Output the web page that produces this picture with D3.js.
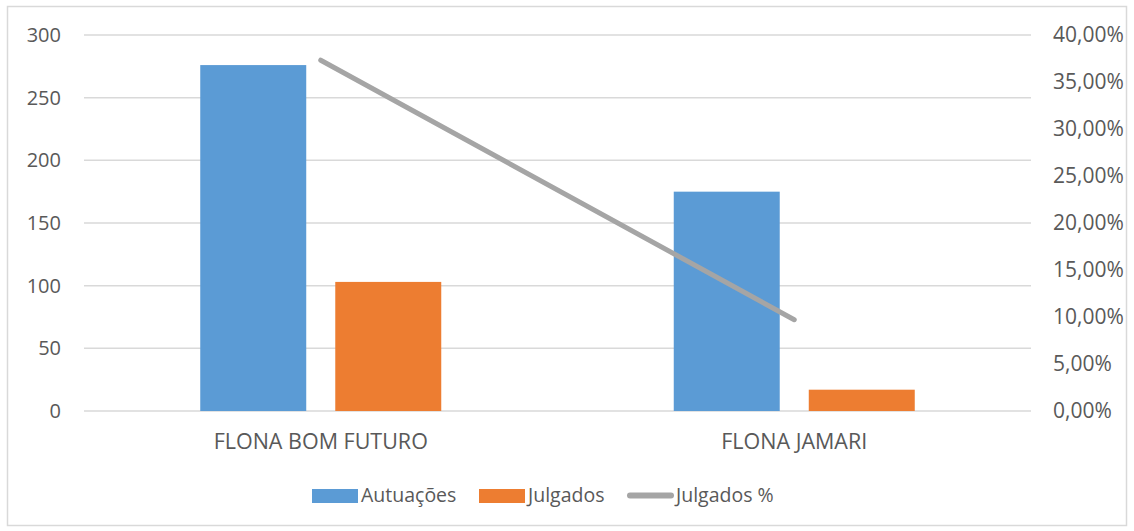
<!DOCTYPE html>
<html><head><meta charset="utf-8">
<script src="https://cdn.jsdelivr.net/npm/d3@7"></script>
<style>body{margin:0;background:#fff}svg{display:block}text{font-family:"Open Sans",sans-serif;fill:#595959}</style>
</head><body><svg id="c" width="1134" height="531"></svg>
<script>
const categories = ["FLONA BOM FUTURO", "FLONA JAMARI"];
const seriesNames = ["Autuações", "Julgados"];
const autuacoes = [276, 175];
const julgados = [103, 17];
const julgadosPct = [0.3732, 0.0971];
const leftTicks = [0, 50, 100, 150, 200, 250, 300];
const rightTicks = [0, 0.05, 0.10, 0.15, 0.20, 0.25, 0.30, 0.35, 0.40];
const colors = {"Autuações": "#5b9bd5", "Julgados": "#ed7d31", "Julgados %": "#a5a5a5"};

const svg = d3.select("#c");
const L = 84, R = 1031, T = 35, B = 411;
svg.append("rect").attr("x", 7.5).attr("y", 6.5).attr("width", 1119).attr("height", 519)
  .attr("fill", "#fff").attr("stroke", "#d9d9d9").attr("stroke-width", 1.5);

const y = d3.scaleLinear().domain([0, 300]).range([B, T]);
const y2 = d3.scaleLinear().domain([0, 0.40]).range([B, T]);
const x0 = d3.scaleBand().domain(categories).range([L, R]).padding(0);
const groupW = 241;
const x1 = d3.scaleBand().domain(seriesNames).range([0, groupW]).paddingInner(0.215).paddingOuter(0);

// gridlines
svg.append("g").selectAll("line").data(leftTicks).join("line")
  .attr("x1", L).attr("x2", R).attr("y1", d => y(d)).attr("y2", d => y(d))
  .attr("stroke", "#d9d9d9").attr("stroke-width", 1.5);

const font = '"Open Sans",sans-serif';
// left axis labels
const fmtPct = d => d3.format(".2f")(d * 100).replace(".", ",") + "%";
const yAxis = d3.axisLeft(y).tickValues(leftTicks).tickSize(0).tickPadding(0);
const gl = svg.append("g").attr("transform", `translate(61,0)`).call(yAxis);
gl.select(".domain").remove();
gl.selectAll("text").attr("font-size", 20).style("fill", "#595959").style("font-family", font);

const yAxis2 = d3.axisRight(y2).tickValues(rightTicks).tickFormat(fmtPct).tickSize(0).tickPadding(0);
const gr = svg.append("g").attr("transform", `translate(1053,0)`).call(yAxis2);
gr.select(".domain").remove();
gr.selectAll("text").attr("font-size", 21).style("fill", "#595959").style("font-family", font);

// bars
const data = categories.map((c, i) => ({c, vals: [{s: "Autuações", v: autuacoes[i]}, {s: "Julgados", v: julgados[i]}]}));
const off = (x0.bandwidth() - groupW) / 2;
svg.append("g").selectAll("g").data(data).join("g")
  .attr("transform", d => `translate(${x0(d.c) + off},0)`)
  .selectAll("rect").data(d => d.vals).join("rect")
  .attr("x", d => x1(d.s)).attr("width", x1.bandwidth())
  .attr("y", d => y(d.v)).attr("height", d => y(0) - y(d.v))
  .attr("fill", d => colors[d.s]);

// line
const line = d3.line().x((d, i) => x0(categories[i]) + x0.bandwidth() / 2).y(d => y2(d));
svg.append("path").datum(julgadosPct).attr("d", line).attr("fill", "none")
  .attr("stroke", colors["Julgados %"]).attr("stroke-width", 5).attr("stroke-linecap", "round");

// category labels
const xAxis = d3.axisBottom(x0).tickSize(0).tickPadding(0);
const gx = svg.append("g").attr("transform", `translate(0,${B + 30})`).call(xAxis);
gx.select(".domain").remove();
gx.selectAll("text").attr("font-size", 21.5).attr("dy", "0.35em").style("fill", "#595959").style("font-family", font);

// legend
const legend = [
  {name: "Autuações", type: "rect", x: 312},
  {name: "Julgados", type: "rect", x: 479},
  {name: "Julgados %", type: "line", x: 627}
];
const lg = svg.append("g");
legend.forEach(d => {
  if (d.type === "rect") {
    lg.append("rect").attr("x", d.x).attr("y", 489).attr("width", 46).attr("height", 14).attr("fill", colors[d.name]);
  } else {
    lg.append("line").attr("x1", d.x + 3).attr("x2", d.x + 44).attr("y1", 495.5).attr("y2", 495.5)
      .attr("stroke", colors[d.name]).attr("stroke-width", 6).attr("stroke-linecap", "round");
  }
  lg.append("text").attr("x", d.x + 49).attr("y", 495).attr("dy", "0.35em").attr("font-size", 19.5).text(d.name);
});
</script></body></html>
